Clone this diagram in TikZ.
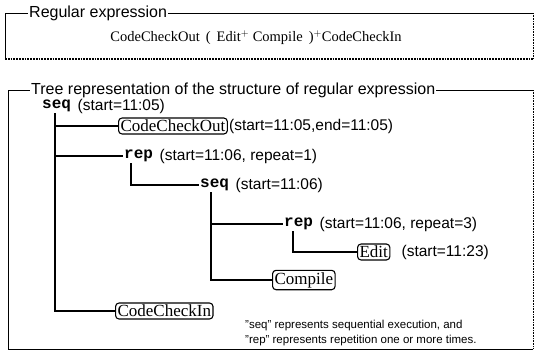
\documentclass[tikz,border=0pt]{standalone}
\usepackage{fontspec}
\setmainfont{Liberation Serif}
\setsansfont{Liberation Sans}
\setmonofont{Liberation Mono}
\usepackage{tikz}

\begin{document}
\begin{tikzpicture}[x=1pt,y=-1pt,
    frame/.style={line width=0.9pt},
    ftitle/.style={fill=white,inner sep=1pt,anchor=west,font=\sffamily\fontsize{16}{18}\selectfont},
    proc/.style={draw,rounded corners=3.5pt,line width=1.1pt,inner sep=2pt,anchor=west,font=\rmfamily\fontsize{17}{19}\selectfont},
    kw/.style={inner sep=1pt,anchor=west,font=\ttfamily\bfseries\fontsize{16}{18}\selectfont},
    attr/.style={inner sep=1pt,anchor=west,font=\sffamily\fontsize{15.5}{18}\selectfont},
    tree/.style={line width=1.8pt},
    note/.style={inner sep=0pt,anchor=west,align=left,font=\sffamily\fontsize{11.5}{15}\selectfont}]
    \useasboundingbox (0,0) rectangle (537,354);
    % regular expression box
    \draw[frame] (5,59) -- (5,13) -- (533,13);
    \draw[line width=0.6pt,densely dotted] (533,13) -- (533,59);
    \draw[line width=1.8pt,densely dotted] (5,59) -- (533,59);
    \node[ftitle] (retitle) at (28,13) {Regular expression};
    \node[font=\rmfamily\fontsize{14.5}{16}\selectfont] (regexp) at (256,38)
        {CodeCheckOut \,(\, Edit$^+$ Compile \,)$^+$CodeCheckIn};
    % tree box
    \draw[frame] (533,90) -- (8,90) -- (8,349) -- (533,349);
    \draw[line width=0.6pt,densely dotted] (533,90) -- (533,349);
    \node[ftitle] (trtitle) at (30,90) {Tree representation of the structure of regular expression};
    \node[kw] (seqa) at (41,106) {seq};
    \node[attr] at (seqa.east) {\ (start=11:05)};
    \node[proc] (cco) at (118,126) {CodeCheckOut};
    \node[attr] at (cco.east) {(start=11:05,end=11:05)};
    \node[kw] (repa) at (123,156) {rep};
    \node[attr] at (repa.east) {\ (start=11:06, repeat=1)};
    \node[kw] (seqb) at (199,185) {seq};
    \node[attr] at (seqb.east) {\ (start=11:06)};
    \node[kw] (repb) at (283,224) {rep};
    \node[attr] at (repb.east) {\ (start=11:06, repeat=3)};
    \node[proc] (edit) at (357,252) {Edit};
    \node[attr] at ([xshift=10]edit.east) {(start=11:23)};
    \node[proc] (comp) at (272,280) {Compile};
    \node[proc] (cci) at (115,311) {CodeCheckIn};
    \draw[tree] ([xshift=-2]seqa.south) |- (cco.west);
    \draw[tree] ([xshift=-2]seqa.south) |- (repa.west);
    \draw[tree] ([xshift=-2]seqa.south) |- (cci.west);
    \draw[tree] ([xshift=8]repa.south west) |- (seqb.west);
    \draw[tree] ([xshift=12]seqb.south west) |- (repb.west);
    \draw[tree] ([xshift=12]seqb.south west) |- (comp.west);
    \draw[tree] ([xshift=10]repb.south west) |- (edit.west);
    \node[note] (remark) at (245,333) {"seq" represents sequential execution, and\\"rep" represents repetition one or more times.};
\end{tikzpicture}
\end{document}
